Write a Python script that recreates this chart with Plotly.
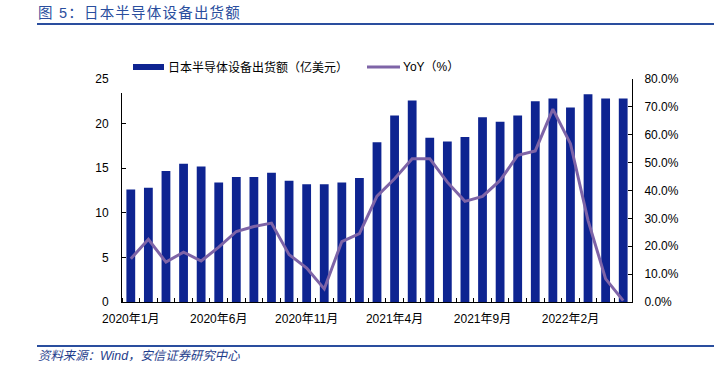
import plotly.graph_objects as go

months = [f"{y}年{m}月" for y in (2020, 2021, 2022) for m in range(1, 13)][:29]

shipments = [12.6, 12.8, 14.7, 15.5, 15.2, 13.4, 14.0, 14.0, 14.5, 13.6,
             13.2, 13.2, 13.4, 13.9, 17.9, 20.9, 22.6, 18.4, 18.0, 18.5,
             20.7, 20.2, 20.9, 22.5, 22.8, 21.8, 23.3, 22.8, 22.8]

yoy = [15.5, 22.5, 14.3, 17.9, 14.7, 19.7, 25.3, 27.1, 28.3, 17.0,
       12.2, 4.7, 21.7, 24.5, 38.0, 44.2, 51.4, 51.4, 43.0, 36.1,
       37.9, 43.6, 52.6, 54.2, 69.2, 56.8, 29.3, 8.3, 0.5]

tick_idx = [0, 5, 10, 15, 20, 25]

bar_name = "日本半导体设备出货额（亿美元）"
line_name = "YoY（%）"
title_text = "图 5：日本半导体设备出货额"
source_text = "资料来源：Wind，安信证券研究中心"

BAR_COLOR = "#0E2491"
LINE_COLOR = "#7E64A7"
BLUE = "#2A4E9E"
FONT = "Liberation Sans, Arial, Noto Sans CJK SC, sans-serif"

# the page body margin is removed by post_script, so the figure starts at (0, 0)
OFF = 0
PL, PR, PT, PB = 122, 632, 79, 302   # plot area in screenshot pixels
PW, PH = PR - PL, PB - PT


def px(xp):
    return (xp - PL) / PW


def py(yp):
    return (PB - yp) / PH


x = list(range(len(months)))

fig = go.Figure()
fig.add_trace(go.Bar(x=x, y=shipments, name=bar_name, marker=dict(color=BAR_COLOR, line=dict(width=0)),
                     width=0.5, yaxis="y", showlegend=False))
fig.add_trace(go.Scatter(x=x, y=[v / 100 for v in yoy], name=line_name, mode="lines",
                         line=dict(color=LINE_COLOR, width=3), yaxis="y2", showlegend=False))

spaced_title = "\u200a".join(title_text)

W, H = 715 - OFF, 372 - OFF
fig.update_layout(
    width=W, height=H,
    margin=dict(l=PL - OFF, r=W - (PR - OFF), t=PT - OFF, b=H - (PB - OFF)),
    paper_bgcolor="white", plot_bgcolor="white",
    font=dict(family=FONT, size=12, color="black"),
    xaxis=dict(
        range=[-0.5, len(months) - 0.5],
        tickvals=tick_idx, ticktext=[months[i] for i in tick_idx],
        ticks="", showgrid=False, zeroline=False,
        showline=True, linecolor="black", linewidth=1,
        ticklabelstandoff=6,
        minor=dict(tickvals=[i - 0.5 for i in range(len(months) + 1)], ticks="inside",
                   ticklen=4, tickcolor="black", showgrid=False),
        tickfont=dict(size=12),
    ),
    yaxis=dict(
        range=[0, 25], dtick=5, showgrid=False, zeroline=False,
        showline=True, linecolor="black", linewidth=1,
        ticks="inside", ticklen=4, tickcolor="black",
        ticklabelstandoff=10,
        tickfont=dict(size=12),
    ),
    yaxis2=dict(
        range=[0, 0.8], dtick=0.1, tickformat=".1%", overlaying="y", side="right",
        showgrid=False, zeroline=False, showline=True, linecolor="black", linewidth=1,
        ticks="inside", ticklen=4, tickcolor="black",
        ticklabelstandoff=9,
        tickfont=dict(size=12),
    ),
    shapes=[
        # legend box (white) hiding top of left axis
        dict(type="rect", xref="paper", yref="paper", x0=px(118), x1=px(128),
             y0=py(93), y1=py(75), fillcolor="white", line=dict(width=0), layer="above"),
        dict(type="line", xref="paper", yref="paper", x0=px(37), x1=px(714),
             y0=py(24), y1=py(24), line=dict(color=BLUE, width=2)),
        dict(type="line", xref="paper", yref="paper", x0=px(37), x1=px(714),
             y0=py(346), y1=py(346), line=dict(color=BLUE, width=2)),
        dict(type="rect", xref="paper", yref="paper", x0=px(133), x1=px(164),
             y0=py(70), y1=py(64), fillcolor=BAR_COLOR, line=dict(width=0)),
        dict(type="line", xref="paper", yref="paper", x0=px(367), x1=px(400),
             y0=py(67), y1=py(67), line=dict(color=LINE_COLOR, width=3)),
    ],
    annotations=[
        dict(text=spaced_title, xref="paper", yref="paper", x=px(36), y=py(13.5),
             xanchor="left", yanchor="middle", showarrow=False,
             font=dict(size=14.5, color=BLUE, family=FONT)),
        dict(text=source_text, xref="paper", yref="paper", x=px(36), y=py(356),
             xanchor="left", yanchor="middle", showarrow=False,
             font=dict(size=12.4, color="#1F3E8C", family=FONT, style="italic")),
        dict(text=bar_name, xref="paper", yref="paper", x=px(166), y=py(67),
             xanchor="left", yanchor="middle", showarrow=False, font=dict(size=12)),
        dict(text=line_name, xref="paper", yref="paper", x=px(401), y=py(67),
             xanchor="left", yanchor="middle", showarrow=False, font=dict(size=12)),
    ],
)

fig.write_html("out.html",
               config={"displayModeBar": False},
               post_script="document.body.style.margin='0';document.body.style.overflow='hidden';")
